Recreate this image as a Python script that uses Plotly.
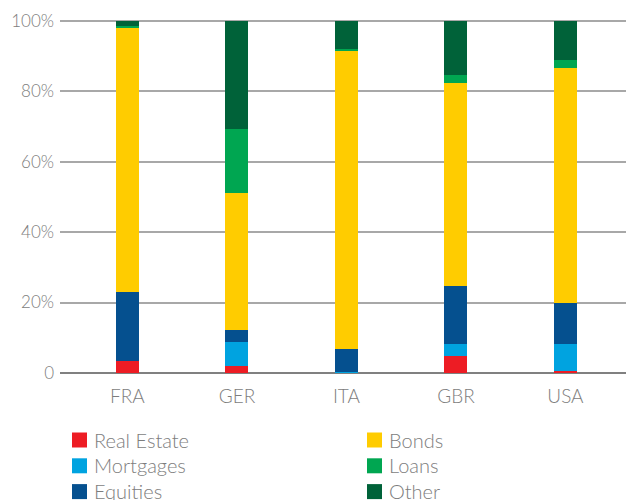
import plotly.graph_objects as go

# Portfolio composition by country (% of total)
countries = ["FRA", "GER", "ITA", "GBR", "USA"]
real_estate = [3.3, 2.0, 0.0, 4.7, 0.7]
mortgages = [0.0, 6.7, 0.3, 3.4, 7.4]
equities = [19.7, 3.4, 6.5, 16.5, 11.9]
bonds = [75.0, 39.1, 84.8, 57.8, 66.7]
loans = [0.6, 18.2, 0.3, 2.3, 2.2]
other = [1.4, 30.6, 8.1, 15.3, 11.1]

y_ticks = [0, 20, 40, 60, 80, 100]
y_tick_labels = ["0", "20%", "40%", "60%", "80%", "100%"]

# (name, values, colour) in stacking order, bottom to top
series = [
    ("Real Estate", real_estate, "#ED1C24"),
    ("Mortgages", mortgages, "#00A3E0"),
    ("Equities", equities, "#05508F"),
    ("Bonds", bonds, "#FFCC00"),
    ("Loans", loans, "#00A651"),
    ("Other", other, "#006239"),
]

FONT = "Lato"
GREY = "#7d7d7d"
WEIGHT = 300

W, H = 626, 500
M_L, M_R, M_T, M_B = 60, 0, 10, 127
PLOT_W = W - M_L - M_R
PLOT_H = H - M_T - M_B


def px_to_paper(px, py):
    """Convert page pixel position to paper coordinates."""
    return (px - M_L) / PLOT_W, (H - M_B - py) / PLOT_H


fig = go.Figure()
for name, vals, color in series:
    fig.add_trace(go.Bar(
        x=countries, y=vals, name=name,
        marker=dict(color=color, line=dict(width=0)),
        showlegend=False,
    ))

# Legend: two columns of three entries, filled column by column
LEG_X0, LEG_Y0 = 72, 440        # first swatch left edge / row centre (px)
COL_STEP, ROW_STEP = 295, 25.8
SWATCH = 15
TEXT_GAP = 5
shapes, annotations = [], []
for i, (name, _, color) in enumerate(series):
    col, row = divmod(i, 3)
    sx = LEG_X0 + col * COL_STEP
    cy = LEG_Y0 + row * ROW_STEP
    x0, y0 = px_to_paper(sx, cy + SWATCH / 2)
    x1, y1 = px_to_paper(sx + SWATCH, cy - SWATCH / 2)
    shapes.append(dict(
        type="rect", xref="paper", yref="paper",
        x0=x0, x1=x1, y0=y0, y1=y1,
        fillcolor=color, line=dict(width=0), layer="above",
    ))
    tx, ty = px_to_paper(sx + SWATCH + TEXT_GAP, cy - 0.5)
    annotations.append(dict(
        xref="paper", yref="paper", x=tx, y=ty,
        xanchor="left", yanchor="middle", showarrow=False,
        text=name, font=dict(family=FONT, size=20, color=GREY, weight=WEIGHT),
    ))

fig.update_layout(
    width=W, height=H,
    margin=dict(l=M_L, r=M_R, t=M_T, b=M_B, autoexpand=False),
    paper_bgcolor="white", plot_bgcolor="white",
    barmode="stack", bargap=0.79,
    font=dict(family=FONT, color=GREY, size=17, weight=WEIGHT),
    xaxis=dict(
        range=[-0.616, 4.553], showgrid=False, zeroline=False, showline=False,
        tickfont=dict(size=19, color=GREY, weight=WEIGHT), ticklabelstandoff=10,
    ),
    yaxis=dict(
        range=[0, 103.04], tickvals=y_ticks, ticktext=y_tick_labels,
        showgrid=True, gridcolor="#a8a8a8", gridwidth=1.5,
        zeroline=True, zerolinecolor="#808080", zerolinewidth=1.5,
        showline=False, tickfont=dict(size=17, color=GREY, weight=WEIGHT),
        ticklabelstandoff=5,
    ),
    shapes=shapes,
    annotations=annotations,
    showlegend=False,
)

fig.write_html("out.html")
